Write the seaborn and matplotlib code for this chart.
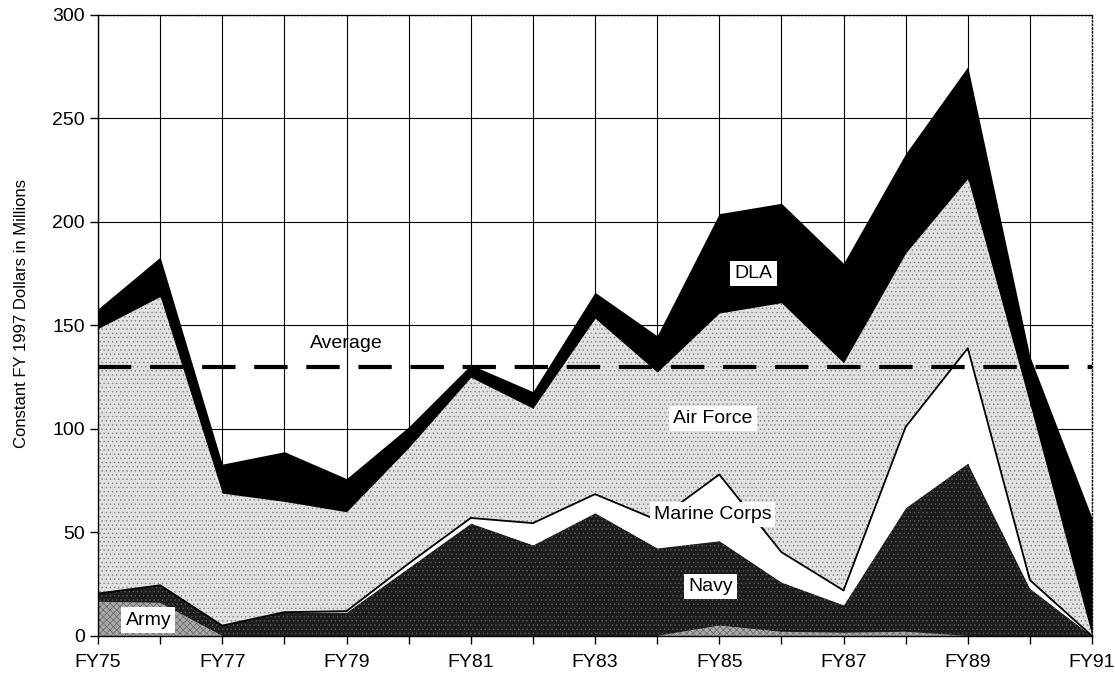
import numpy as np
import pandas as pd
import matplotlib
matplotlib.use('Agg')
import matplotlib.pyplot as plt
import seaborn as sns

# values (constant FY1997 $M)
years = ['FY75', 'FY76', 'FY77', 'FY78', 'FY79', 'FY80', 'FY81', 'FY82', 'FY83',
         'FY84', 'FY85', 'FY86', 'FY87', 'FY88', 'FY89', 'FY90', 'FY91']
army = [16.5, 16, 0, 0, 0, 0, 0, 0, 0, 0, 5, 2, 1.5, 2, 0, 0, 0]
navy = [4, 8.5, 5, 11.5, 11.5, 33, 54.5, 44, 59.5, 42.5, 41, 24, 13.5, 60, 83.5, 23, 0]
marine_corps = [0, 0, 0, 0, 0.5, 2, 2.5, 10.5, 9, 13.5, 32, 14.5, 7, 39, 55.5, 4, 0]
air_force = [128, 139.5, 64, 53.5, 48, 56, 68, 55.5, 85, 71.5, 78, 120.5, 110, 84, 82, 85, 0]
dla = [9.5, 19, 14, 24, 16, 10, 6, 8, 12.5, 17.5, 48, 48, 48, 48, 54, 23, 57]
average = 130

sns.set_theme(style='ticks')
plt.rcParams['font.family'] = ['Liberation Sans', 'DejaVu Sans']
plt.rcParams['hatch.linewidth'] = 0.6
plt.rcParams['text.color'] = 'black'

df = pd.DataFrame({'Army': army, 'Navy': navy, 'Marine Corps': marine_corps,
                   'Air Force': air_force, 'DLA': dla}, index=years)
x = np.arange(len(years))

fig = plt.figure(figsize=(11.15, 6.78), dpi=100)
ax = fig.add_axes([0.0879, 0.062, 0.8915, 0.916])

colors = ['#a9a9a9', '#1c1c1c', 'white', '#e2e2e2', 'black']
hatches = ['xxxxx', '....', None, '....', None]
hcolors = ['#6e6e6e', '#555555', 'white', '#8a8a8a', 'black']
polys = ax.stackplot(x, df.T.values, colors=colors, zorder=2)
for p, h, hc in zip(polys, hatches, hcolors):
    p.set_edgecolor(hc)
    p.set_linewidth(0)
    if h:
        p.set_hatch(h)

# outline on top of the Marine Corps layer
mc_top = df[['Army', 'Navy', 'Marine Corps']].sum(axis=1).values
sns.lineplot(x=x, y=mc_top, color='black', lw=1.3, ax=ax, zorder=3)

ax.axhline(average, color='black', lw=3, ls=(0, (8, 4.5)), zorder=4)

box = dict(facecolor='white', edgecolor='none', pad=3)
fs = 14
ax.text(4.0, 141.5, 'Average', ha='center', va='center', fontsize=fs, zorder=5)
ax.text(10.55, 175, 'DLA', ha='center', va='center', fontsize=fs, bbox=box, zorder=5)
ax.text(9.9, 105, 'Air Force', ha='center', va='center', fontsize=fs, bbox=box, zorder=5)
ax.text(9.89, 58.5, 'Marine Corps', ha='center', va='center', fontsize=fs, bbox=box, zorder=5)
ax.text(9.86, 23.7, 'Navy', ha='center', va='center', fontsize=fs, bbox=box, zorder=5)
ax.text(0.81, 7.7, 'Army', ha='center', va='center', fontsize=fs, bbox=box, zorder=5)

ax.set_xlim(0, len(years) - 1)
ax.set_ylim(0, 300)
ax.set_xticks(x)
ax.set_xticklabels([y if i % 2 == 0 else '' for i, y in enumerate(years)])
ax.set_yticks(range(0, 301, 50))
ax.set_axisbelow(True)
ax.grid(True, color='black', lw=0.8)
ax.tick_params(direction='out', length=6, width=1, color='black', labelsize=14,
               labelcolor='black')
ax.tick_params(axis='x', pad=7)
for s in ['left', 'bottom']:
    ax.spines[s].set_color('black')
    ax.spines[s].set_linewidth(1)
for s in ['top', 'right']:
    ax.spines[s].set_color('black')
    ax.spines[s].set_linewidth(1)
    ax.spines[s].set_linestyle(':')
ax.set_ylabel('Constant FY 1997 Dollars in Millions', fontsize=12, color='black')
ax.yaxis.set_label_coords(-0.069, 0.52)
ax.set_xlabel('')

fig.savefig('out.png', dpi=100)
